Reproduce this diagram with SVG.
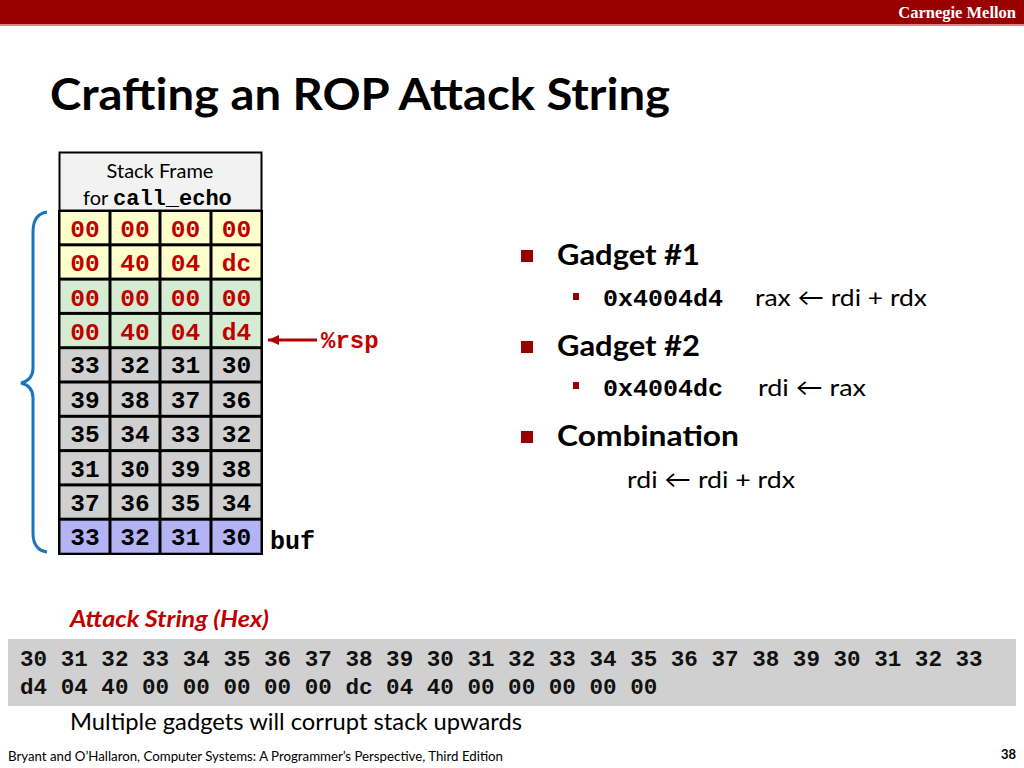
<svg xmlns="http://www.w3.org/2000/svg" width="1024" height="768" viewBox="0 0 1024 768">
<style>
.sans{font-family:Lato,"Open Sans","Liberation Sans",sans-serif}
.mono{font-family:"Liberation Mono","Courier New",monospace;font-weight:bold}
.cell{font-family:"Liberation Mono","Courier New",monospace;font-weight:bold;font-size:24.5px;text-anchor:middle}
.red{fill:#c00000}
.blk{fill:#000}
.y{fill:#ffffcc}
.g{fill:#d6ecd2}
.gr{fill:#d0d0d0}
.b{fill:#b4b4f4}
.bul{fill:#990000}
</style>
<defs>
<marker id="ah" markerWidth="12" markerHeight="10" refX="11" refY="5" orient="auto" markerUnits="userSpaceOnUse">
<path d="M0,0 L11,5 L0,10 Z" fill="#b00000"/>
</marker>
</defs>
<rect width="1024" height="768" fill="#fff"/>
<rect x="0" y="0" width="1024" height="24" fill="#990000"/>
<rect x="0" y="24" width="1024" height="2" fill="#d88"/>
<text x="1016" y="18" text-anchor="end" font-family="Liberation Serif,serif" font-weight="bold" font-size="16.5" fill="#fff">Carnegie Mellon</text>
<text x="50" y="110" class="sans" font-weight="bold" font-size="44" textLength="620" lengthAdjust="spacingAndGlyphs">Crafting an ROP Attack String</text>

<g id="stack">
<rect x="59.5" y="152.5" width="202" height="58" fill="#f2f2f2" stroke="#000" stroke-width="2"/>
<text x="160" y="178" text-anchor="middle" class="sans" font-size="20">Stack Frame</text>
<text x="83" y="205" class="sans" font-size="20">for <tspan class="mono" font-size="22">call_echo</tspan></text>
<rect x="58" y="210" width="205" height="345" fill="#000"/>
<g>
<rect x="60.5" y="212" width="48" height="31.3" class="y"/><rect x="111.5" y="212" width="47" height="31.3" class="y"/><rect x="161.5" y="212" width="48" height="31.3" class="y"/><rect x="212.5" y="212" width="48" height="31.3" class="y"/>
<text x="85" y="236.5" class="cell red">00</text><text x="135" y="236.5" class="cell red">00</text><text x="185.5" y="236.5" class="cell red">00</text><text x="236.5" y="236.5" class="cell red">00</text>
</g>
<g>
<rect x="60.5" y="246.3" width="48" height="31.3" class="y"/><rect x="111.5" y="246.3" width="47" height="31.3" class="y"/><rect x="161.5" y="246.3" width="48" height="31.3" class="y"/><rect x="212.5" y="246.3" width="48" height="31.3" class="y"/>
<text x="85" y="271" class="cell red">00</text><text x="135" y="271" class="cell red">40</text><text x="185.5" y="271" class="cell red">04</text><text x="236.5" y="271" class="cell red">dc</text>
</g>
<g>
<rect x="60.5" y="280.6" width="48" height="31.3" class="g"/><rect x="111.5" y="280.6" width="47" height="31.3" class="g"/><rect x="161.5" y="280.6" width="48" height="31.3" class="g"/><rect x="212.5" y="280.6" width="48" height="31.3" class="g"/>
<text x="85" y="305.5" class="cell red">00</text><text x="135" y="305.5" class="cell red">00</text><text x="185.5" y="305.5" class="cell red">00</text><text x="236.5" y="305.5" class="cell red">00</text>
</g>
<g>
<rect x="60.5" y="314.9" width="48" height="31.3" class="g"/><rect x="111.5" y="314.9" width="47" height="31.3" class="g"/><rect x="161.5" y="314.9" width="48" height="31.3" class="g"/><rect x="212.5" y="314.9" width="48" height="31.3" class="g"/>
<text x="85" y="339.5" class="cell red">00</text><text x="135" y="339.5" class="cell red">40</text><text x="185.5" y="339.5" class="cell red">04</text><text x="236.5" y="339.5" class="cell red">d4</text>
</g>
<g>
<rect x="60.5" y="349.2" width="48" height="31.3" class="gr"/><rect x="111.5" y="349.2" width="47" height="31.3" class="gr"/><rect x="161.5" y="349.2" width="48" height="31.3" class="gr"/><rect x="212.5" y="349.2" width="48" height="31.3" class="gr"/>
<text x="85" y="373" class="cell blk">33</text><text x="135" y="373" class="cell blk">32</text><text x="185.5" y="373" class="cell blk">31</text><text x="236.5" y="373" class="cell blk">30</text>
</g>
<g>
<rect x="60.5" y="383.5" width="48" height="31.3" class="gr"/><rect x="111.5" y="383.5" width="47" height="31.3" class="gr"/><rect x="161.5" y="383.5" width="48" height="31.3" class="gr"/><rect x="212.5" y="383.5" width="48" height="31.3" class="gr"/>
<text x="85" y="407.5" class="cell blk">39</text><text x="135" y="407.5" class="cell blk">38</text><text x="185.5" y="407.5" class="cell blk">37</text><text x="236.5" y="407.5" class="cell blk">36</text>
</g>
<g>
<rect x="60.5" y="417.8" width="48" height="31.3" class="gr"/><rect x="111.5" y="417.8" width="47" height="31.3" class="gr"/><rect x="161.5" y="417.8" width="48" height="31.3" class="gr"/><rect x="212.5" y="417.8" width="48" height="31.3" class="gr"/>
<text x="85" y="442" class="cell blk">35</text><text x="135" y="442" class="cell blk">34</text><text x="185.5" y="442" class="cell blk">33</text><text x="236.5" y="442" class="cell blk">32</text>
</g>
<g>
<rect x="60.5" y="452.1" width="48" height="31.3" class="gr"/><rect x="111.5" y="452.1" width="47" height="31.3" class="gr"/><rect x="161.5" y="452.1" width="48" height="31.3" class="gr"/><rect x="212.5" y="452.1" width="48" height="31.3" class="gr"/>
<text x="85" y="476.5" class="cell blk">31</text><text x="135" y="476.5" class="cell blk">30</text><text x="185.5" y="476.5" class="cell blk">39</text><text x="236.5" y="476.5" class="cell blk">38</text>
</g>
<g>
<rect x="60.5" y="486.4" width="48" height="31.3" class="gr"/><rect x="111.5" y="486.4" width="47" height="31.3" class="gr"/><rect x="161.5" y="486.4" width="48" height="31.3" class="gr"/><rect x="212.5" y="486.4" width="48" height="31.3" class="gr"/>
<text x="85" y="511" class="cell blk">37</text><text x="135" y="511" class="cell blk">36</text><text x="185.5" y="511" class="cell blk">35</text><text x="236.5" y="511" class="cell blk">34</text>
</g>
<g>
<rect x="60.5" y="520.7" width="48" height="32" class="b"/><rect x="111.5" y="520.7" width="47" height="32" class="b"/><rect x="161.5" y="520.7" width="48" height="32" class="b"/><rect x="212.5" y="520.7" width="48" height="32" class="b"/>
<text x="85" y="545" class="cell blk">33</text><text x="135" y="545" class="cell blk">32</text><text x="185.5" y="545" class="cell blk">31</text><text x="236.5" y="545" class="cell blk">30</text>
</g>
</g>

<g id="labels">
<text x="321" y="348" class="mono red" font-size="24">%rsp</text>
<text x="270" y="549" class="mono" font-size="25">buf</text>
</g>

<g id="connectors">
<line x1="317" y1="340" x2="268" y2="340" stroke="#b00000" stroke-width="3" marker-end="url(#ah)"/>
<path d="M47,212 Q33,214 33,232 L33,368 Q33,380 21,383 Q33,386 33,398 L33,533 Q33,550 47,552" fill="none" stroke="#1a75bc" stroke-width="3"/>
</g>

<g id="bullets">
<rect x="521" y="250" width="12" height="12" class="bul"/>
<text x="557" y="265" class="sans" font-weight="bold" font-size="29" textLength="143" lengthAdjust="spacingAndGlyphs">Gadget #1</text>
<rect x="573" y="293" width="6" height="7" class="bul"/>
<text x="603" y="306" class="mono" font-size="24" textLength="120" lengthAdjust="spacingAndGlyphs">0x4004d4</text>
<text x="755" y="306" class="sans" font-size="24" textLength="172" lengthAdjust="spacingAndGlyphs">rax ← rdi + rdx</text>
<rect x="521" y="341" width="12" height="12" class="bul"/>
<text x="557" y="356" class="sans" font-weight="bold" font-size="29" textLength="143" lengthAdjust="spacingAndGlyphs">Gadget #2</text>
<rect x="573" y="382" width="6" height="7" class="bul"/>
<text x="603" y="396" class="mono" font-size="24" textLength="120" lengthAdjust="spacingAndGlyphs">0x4004dc</text>
<text x="758" y="396" class="sans" font-size="24" textLength="108" lengthAdjust="spacingAndGlyphs">rdi ← rax</text>
<rect x="521" y="431" width="12" height="12" class="bul"/>
<text x="557" y="446" class="sans" font-weight="bold" font-size="29" textLength="182" lengthAdjust="spacingAndGlyphs">Combination</text>
<text x="627" y="488" class="sans" font-size="24" textLength="168" lengthAdjust="spacingAndGlyphs">rdi ← rdi + rdx</text>
</g>

<g id="attack">
<text x="70" y="627" class="sans red" font-weight="bold" font-style="italic" font-size="23" textLength="199" lengthAdjust="spacingAndGlyphs">Attack String (Hex)</text>
<rect x="8" y="639" width="1008" height="67" fill="#d0d0d0"/>
<text x="20" y="666" font-family="Liberation Mono,monospace" font-weight="bold" fill="#111" font-size="22.6">30 31 32 33 34 35 36 37 38 39 30 31 32 33 34 35 36 37 38 39 30 31 32 33</text>
<text x="20" y="694" font-family="Liberation Mono,monospace" font-weight="bold" fill="#111" font-size="22.6">d4 04 40 00 00 00 00 00 dc 04 40 00 00 00 00 00</text>
<text x="70" y="730" class="sans" font-size="23" textLength="452" lengthAdjust="spacingAndGlyphs">Multiple gadgets will corrupt stack upwards</text>
</g>

<text x="8" y="761" class="sans" font-size="13" textLength="495" lengthAdjust="spacingAndGlyphs">Bryant and O’Hallaron, Computer Systems: A Programmer’s Perspective, Third Edition</text>
<text x="1016" y="759" text-anchor="end" class="sans" font-weight="bold" font-size="13">38</text>
</svg>
